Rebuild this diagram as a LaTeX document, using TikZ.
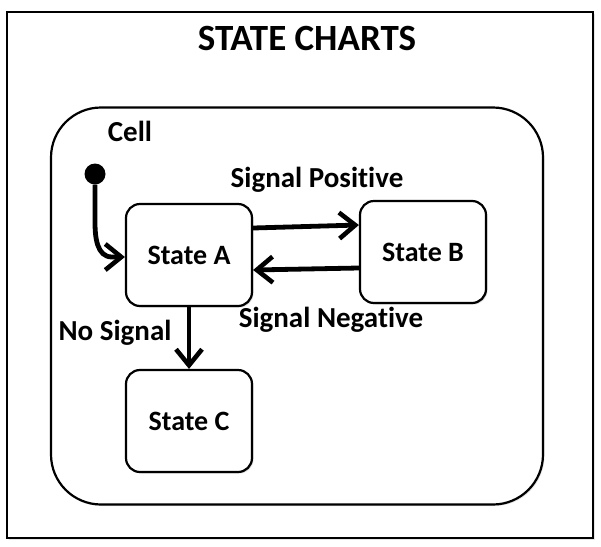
\documentclass[tikz,border=0pt]{standalone}
\usepackage{fontspec}
\setmainfont{Carlito}[Ligatures={NoCommon}]
\usetikzlibrary{arrows.meta,shadows}
\begin{document}
\begin{tikzpicture}[x=1pt,y=-1pt,
  statebox/.style={draw,line width=2.2pt,rounded corners=14pt,minimum width=126pt,minimum height=102pt,fill=white,font=\bfseries\fontsize{28}{32}\selectfont,drop shadow={opacity=0.25,shadow xshift=1.5pt,shadow yshift=-1.5pt}},
  lbl/.style={font=\bfseries\fontsize{29}{33}\selectfont},
  trans/.style={line width=4.8pt,-{Straight Barb[length=16pt,width=26pt,line width=4.6pt]}}]
\useasboundingbox (0,0) rectangle (601,546);
\node[draw,line width=2.2pt,minimum width=586pt,minimum height=526pt,inner sep=0pt,drop shadow={opacity=0.2,shadow xshift=1.5pt,shadow yshift=-1.5pt},fill=white] (frame) at (300,275) {};
\node[font=\bfseries\fontsize{37}{40}\selectfont] (title) at (307,38) {STATE CHARTS};
\node[draw,line width=2.2pt,rounded corners=50pt,minimum width=492pt,minimum height=397pt,inner sep=0pt,fill=white,drop shadow={opacity=0.2,shadow xshift=1.5pt,shadow yshift=-1.5pt}] (cell) at (297,306) {};
\node[lbl] (celllbl) at (130,131) {Cell};
\node[statebox] (A) at (189,255) {State A};
\node[statebox] (B) at (423,252) {State B};
\node[statebox] (C) at (189,421) {State C};
\node[circle,fill=black,minimum size=21pt,inner sep=0pt] (init) at (95,174) {};
\node[lbl] (pos) at (317,180) {Signal Positive};
\node[lbl] (neg) at (331,320) {Signal Negative};
\node[lbl] (nosig) at (115,333) {No Signal};
\coordinate (bend) at (112,257);
\draw[trans] (init.south) -- (95,222) to[out=270,in=180] (bend) -- (A.west|-0,257);
\draw[trans] (A.east|-0,228) -- (B.west|-0,225);
\draw[trans] (B.west|-0,268) -- (A.east|-0,270);
\draw[trans] (A.south) -- (C.north);
\end{tikzpicture}
\end{document}
